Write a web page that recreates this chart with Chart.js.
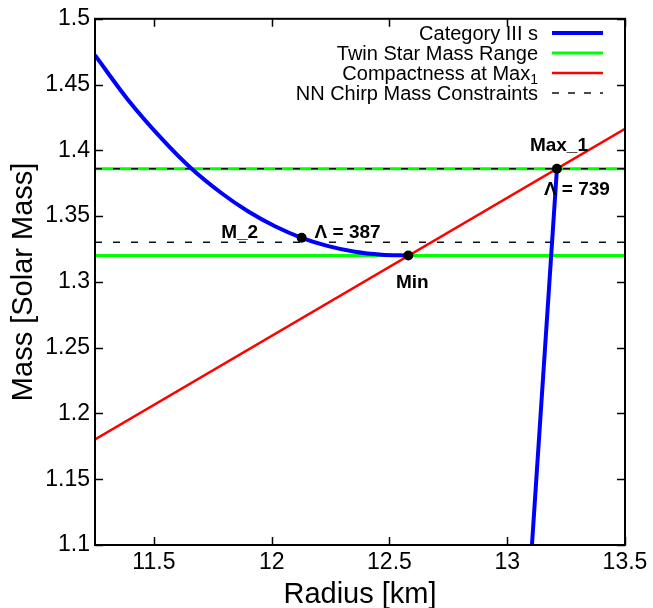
<!DOCTYPE html>
<html><head><meta charset="utf-8">
<script src="https://cdn.jsdelivr.net/npm/chart.js@4"></script>
<style>html,body{margin:0;padding:0;background:#fff}#wrap{width:653px;height:608px}</style>
</head><body><div id="wrap"><canvas id="c"></canvas></div>
<script>
// ---- data ----
const radiusRange = [11.25, 13.5];
const massRange = [1.1, 1.5];
const hybridRadius = [11.25, 11.3915, 11.533, 11.6603, 11.7876, 11.9008, 12.014, 12.1272, 12.2404, 12.3536, 12.4668, 12.58];
const hybridMass   = [1.4723, 1.4381, 1.4089, 1.386, 1.3674, 1.3535, 1.3423, 1.3335, 1.3272, 1.3229, 1.3207, 1.3201];
const hadronicRadius = [13.105, 13.158, 13.211];
const hadronicMass   = [1.1, 1.243, 1.386];
const compactRadius = [11.25, 13.5];
const compactMass   = [1.1803, 1.4163];
const twinMassRange = [1.3201, 1.386];
const chirpMass = [1.3302, 1.386];
const markerNames  = ['M_2', 'Min', 'Max_1'];
const markerRadius = [12.1272, 12.58, 13.211];
const markerMass   = [1.3335, 1.3201, 1.386];
const lambdaLabels = ['Λ = 387', '', 'Λ = 739'];
const xTicks = [11.5, 12, 12.5, 13, 13.5];
const xTickLabels = ['11.5', '12', '12.5', '13', '13.5'];
const yTicks = [1.1, 1.15, 1.2, 1.25, 1.3, 1.35, 1.4, 1.45, 1.5];
const yTickLabels = ['1.1', '1.15', '1.2', '1.25', '1.3', '1.35', '1.4', '1.45', '1.5'];
const legendLabels = ['Category III s', 'Twin Star Mass Range', 'Compactness at Max', 'NN Chirp Mass Constraints'];
const legendSubs = ['', '', '1', ''];

const FONT = 'Liberation Sans, Arial, Helvetica, sans-serif';
Chart.defaults.font.family = FONT;
Chart.defaults.color = '#000';

const toPts = (xs, ys) => xs.map((x, i) => ({x, y: ys[i]}));
const hline = (v) => [{x: radiusRange[0], y: v}, {x: radiusRange[1], y: v}];

const BLUE = '#0000ff', GREEN = '#00ff00', RED = '#ff0000';

const datasets = [];
twinMassRange.forEach(v => datasets.push({data: hline(v), borderColor: GREEN, borderWidth: 3, pointRadius: 0, order: 5}));
chirpMass.forEach(v => datasets.push({data: hline(v), borderColor: '#111', borderWidth: 1.5, borderDash: [7, 11], pointRadius: 0, order: 4}));
datasets.push({data: toPts(compactRadius, compactMass), borderColor: RED, borderWidth: 2.5, pointRadius: 0, order: 3});
datasets.push({data: toPts(hybridRadius, hybridMass), borderColor: BLUE, borderWidth: 4, pointRadius: 0, cubicInterpolationMode: 'monotone', order: 2});
datasets.push({data: toPts(hadronicRadius, hadronicMass), borderColor: BLUE, borderWidth: 4, pointRadius: 0, order: 2});
datasets.push({data: toPts(markerRadius, markerMass), showLine: false, pointRadius: 5, pointBackgroundColor: '#000', pointBorderColor: '#000', pointBorderWidth: 0, order: 1});

const frameTicks = {
  id: 'frameTicks',
  afterDatasetsDraw(chart) {
    const {ctx, chartArea: a, scales: {x, y}} = chart;
    ctx.save();
    ctx.strokeStyle = '#000';
    ctx.lineWidth = 1.5;
    const L = 8;
    ctx.beginPath();
    xTicks.forEach(v => {
      const px = Math.round(x.getPixelForValue(v)) + 0.5;
      ctx.moveTo(px, a.bottom); ctx.lineTo(px, a.bottom - L);
      ctx.moveTo(px, a.top); ctx.lineTo(px, a.top + L);
    });
    yTicks.forEach(v => {
      const py = Math.round(y.getPixelForValue(v)) + 0.5;
      ctx.moveTo(a.left, py); ctx.lineTo(a.left + L, py);
      ctx.moveTo(a.right, py); ctx.lineTo(a.right - L, py);
    });
    ctx.stroke();
    ctx.lineWidth = 2;
    ctx.strokeRect(a.left, a.top, a.right - a.left, a.bottom - a.top);

    // point annotations
    ctx.fillStyle = '#000';
    ctx.font = 'bold 19px ' + FONT;
    ctx.textAlign = 'center';
    ctx.textBaseline = 'middle';
    const nameOff = [[-62, -5], [4, 27], [2, -23]];
    const lamOff = [[46, -5], [0, 0], [20, 21]];
    markerNames.forEach((n, i) => {
      const px = x.getPixelForValue(markerRadius[i]);
      const py = y.getPixelForValue(markerMass[i]);
      ctx.fillText(n, px + nameOff[i][0], py + nameOff[i][1]);
      if (lambdaLabels[i]) ctx.fillText(lambdaLabels[i], px + lamOff[i][0], py + lamOff[i][1]);
    });

    // legend
    const styles = [
      {c: BLUE, w: 4, d: []}, {c: GREEN, w: 3, d: []}, {c: RED, w: 2.5, d: []}, {c: '#111', w: 1.5, d: [7, 9]}
    ];
    const rowY = [34, 54, 74, 94];
    const textRight = 538, s0 = 552, s1 = 603;
    ctx.textAlign = 'right';
    legendLabels.forEach((t, i) => {
      let r = textRight;
      if (legendSubs[i]) {
        ctx.font = '14px ' + FONT;
        ctx.fillText(legendSubs[i], r, rowY[i] + 6);
        r -= ctx.measureText(legendSubs[i]).width;
      }
      ctx.font = '20px ' + FONT;
      ctx.fillText(t, r, rowY[i]);
      ctx.beginPath();
      ctx.strokeStyle = styles[i].c;
      ctx.lineWidth = styles[i].w;
      ctx.setLineDash(styles[i].d);
      ctx.moveTo(s0, rowY[i] - 1); ctx.lineTo(s1, rowY[i] - 1);
      ctx.stroke();
      ctx.setLineDash([]);
    });
    ctx.restore();
  }
};

new Chart(document.getElementById('c'), {
  type: 'line',
  data: {datasets},
  options: {
    responsive: true,
    maintainAspectRatio: false,
    animation: false,
    layout: {padding: {left: 0, right: 28, top: 15, bottom: 0}},
    plugins: {legend: {display: false}, tooltip: {enabled: false}},
    scales: {
      x: {
        type: 'linear', min: radiusRange[0], max: radiusRange[1],
        grid: {display: false, drawTicks: false},
        border: {display: false},
        afterBuildTicks: s => { s.ticks = xTicks.map(v => ({value: v})); },
        afterFit: s => { s.height = 63; },
        ticks: {font: {size: 23}, padding: 4, maxRotation: 0, autoSkip: false,
                callback: v => xTickLabels[xTicks.indexOf(v)] ?? String(v)},
        title: {display: true, text: 'Radius [km]', font: {size: 29, lineHeight: 0.9}, padding: {top: 0, bottom: 0}}
      },
      y: {
        type: 'linear', min: massRange[0], max: massRange[1],
        grid: {display: false, drawTicks: false},
        border: {display: false},
        afterBuildTicks: s => { s.ticks = yTicks.map(v => ({value: v})); },
        afterFit: s => { s.width = 95; },
        ticks: {font: {size: 23}, padding: 5, autoSkip: false,
                callback: v => yTickLabels[yTicks.indexOf(v)] ?? String(v)},
        title: {display: true, text: 'Mass [Solar Mass]', font: {size: 29, lineHeight: 1.2}, padding: {top: 7, bottom: 0}}
      }
    }
  },
  plugins: [frameTicks]
});
</script></body></html>
